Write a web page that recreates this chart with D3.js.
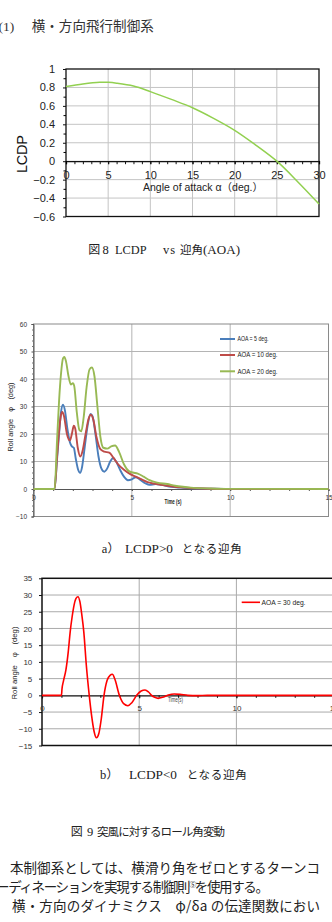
<!DOCTYPE html>
<html><head><meta charset="utf-8">
<script src="https://cdn.jsdelivr.net/npm/d3@7"></script>
<style>body{margin:0;background:#fff;overflow:hidden}svg{display:block}</style>
</head><body>
<svg id="c" width="332" height="922"></svg>
<script>
// ---------- data ----------
const lcdpAlpha = [0,2,4,5,6,8,10,12.5,15,17.5,20,22.5,25,27.5,30];
const lcdpValue = [0.81,0.838,0.856,0.855,0.846,0.815,0.755,0.67,0.58,0.465,0.335,0.175,0,-0.225,-0.465];
const lcdpXTicks = [0,5,10,15,20,25,30];
const lcdpYTicks = [-0.6,-0.4,-0.2,0,0.2,0.4,0.6,0.8,1];

const timeA5 = [0,1.07,1.2,1.3,1.4,1.5,1.6,1.72,1.85,1.95,2.05,2.15,2.27,2.37,2.47,2.6,2.75,2.9,3.0,3.15,3.3,3.45,3.6,3.75,3.9,4.05,4.2,4.4,4.6,4.8,5.0,5.2,5.4,5.7,5.9,6.2,6.5,7,7.5,8,9,10,15];
const rollA5 = [0,0,11,20,28,30.7,28.5,22,17,15.5,15,11,7,5.9,8,15,23,27.3,26.5,20,12,7.5,6.3,7.5,10,11.3,10,7,4.5,3.2,3.5,4.3,3.5,2,1.5,1.8,1.5,0.8,0.5,0.25,0.1,0,0];
const timeA10 = [0,1.07,1.2,1.3,1.4,1.47,1.55,1.7,1.85,1.95,2.05,2.12,2.25,2.38,2.5,2.65,2.8,2.92,3.05,3.2,3.4,3.6,3.85,4.05,4.3,4.6,4.9,5.2,5.5,5.8,6.1,6.5,7,7.5,8,9,10,15];
const rollA10 = [0,0,12,21,27,28,26.5,20,17.6,20,23,22,15,11.8,14,20,25.5,27,25,19,14.5,13.6,13.2,11.5,9,7,5.5,4.5,3.5,2.5,2,1.5,1,0.6,0.35,0.1,0,0];
const timeA20 = [0,1.07,1.2,1.3,1.4,1.5,1.57,1.65,1.78,1.9,2.0,2.07,2.2,2.33,2.43,2.55,2.7,2.85,2.97,3.1,3.25,3.4,3.55,3.75,3.95,4.15,4.35,4.6,4.85,5.05,5.3,5.6,5.9,6.3,6.8,7.2,7.6,8,9,10,15];
const rollA20 = [0,0,18,32,42,47.5,48,46.5,41,38,38.5,37.5,28,21.5,21,26,37,43.5,44.2,41,30,19,15,14.7,15.5,15.8,13.5,9,6.5,6,5.6,4.5,3.2,2.3,1.8,1.2,0.8,0.5,0.2,0.05,0];
const seriesA = ["AOA = 5 deg.","AOA = 10 deg.","AOA = 20 deg."];
const rollXTicks = [0,5,10,15];
const rollYTicksA = [-10,0,10,20,30,40,50,60];

const timeA30 = [0,1.0,1.03,1.1,1.23,1.35,1.45,1.55,1.65,1.75,1.85,1.95,2.05,2.15,2.28,2.43,2.55,2.68,2.8,2.92,3.05,3.19,3.35,3.5,3.62,3.75,3.98,4.2,4.42,4.62,4.87,5.1,5.3,5.48,5.64,5.8,5.98,6.2,6.5,6.8,7.1,7.5,8,8.5,15];
const rollA30 = [0,0,2,4.2,7.6,13,19,23.5,27,29,29.5,28,24,19,9,0,-6,-10.8,-12.7,-11.5,-7,0,4.5,6,6.3,4.8,0,-2.5,-3.1,-2.2,0,1.3,1.6,1,0,-0.6,-0.9,-0.6,0.1,0.4,0.3,0,-0.1,0,0];
const seriesB = ["AOA = 30 deg."];
const rollYTicksB = [-15,-10,-5,0,5,10,15,20,25,30,35];

// ---------- setup ----------
const svg = d3.select("#c");
const SANS = "'Liberation Sans','Noto Sans CJK JP',sans-serif";
const SERIF = "'Liberation Serif','Noto Sans CJK JP',serif";
const CJK = "'Noto Sans CJK JP',sans-serif";

function txt(x, y, s, o = {}) {
  const t = svg.append("text").attr("x", x).attr("y", y).text(s)
    .attr("font-family", o.ff || SERIF).attr("font-size", o.fs || 12)
    .attr("fill", o.fill || "#222");
  if (o.anchor) t.attr("text-anchor", o.anchor);
  if (o.len) t.attr("textLength", o.len).attr("lengthAdjust", o.adj || "spacing");
  if (o.weight) t.attr("font-weight", o.weight);
  return t;
}

// ---------- header text ----------
txt(-1.5, 31, "(1)", {fs: 13.5, ff: SERIF, fill: "#333"});
txt(31.7, 31, "横・方向飛行制御系", {fs: 13.5, ff: CJK, fill: "#333", len: 122});

// ---------- chart 1 : LCDP ----------
{
  const x = d3.scaleLinear([0, 30], [66, 319]);
  const y = d3.scaleLinear([-0.6, 1], [216.5, 69]);
  const g = svg.append("g");
  g.selectAll(".hg").data(lcdpYTicks.slice(1, -1)).join("line")
    .attr("x1", x(0)).attr("x2", x(30)).attr("y1", d => y(d)).attr("y2", d => y(d))
    .attr("stroke", "#c4c4c4").attr("stroke-width", 1);
  g.selectAll(".vg").data(lcdpXTicks.slice(1, -1)).join("line")
    .attr("y1", y(1)).attr("y2", y(-0.6)).attr("x1", d => x(d)).attr("x2", d => x(d))
    .attr("stroke", "#c4c4c4").attr("stroke-width", 1);
  g.append("rect").attr("x", x(0)).attr("y", y(1)).attr("width", x(30) - x(0)).attr("height", y(-0.6) - y(1))
    .attr("fill", "none").attr("stroke", "#111").attr("stroke-width", 1.3);
  const ya = g.append("g").attr("transform", `translate(${x(0)},0)`)
    .call(d3.axisLeft(y).tickValues(lcdpYTicks).tickSize(3).tickPadding(8).tickFormat(d3.format("")));
  ya.select(".domain").remove();
  ya.selectAll("text").attr("font-size", 11).attr("font-family", SANS).attr("fill", "#222");
  ya.selectAll("line").attr("stroke", "#111");
  const yminor = g.append("g").attr("transform", `translate(${x(0)},0)`)
    .call(d3.axisLeft(y).tickValues(d3.range(-0.5, 1, 0.2)).tickSize(2.5).tickFormat(""));
  yminor.select(".domain").remove();
  const xa = g.append("g").attr("transform", `translate(0,${y(0)})`)
    .call(d3.axisBottom(x).tickValues(lcdpXTicks).tickSize(3).tickPadding(7));
  xa.select(".domain").attr("stroke", "#111").attr("stroke-width", 1.3);
  xa.selectAll("text").attr("font-size", 11).attr("font-family", SANS).attr("fill", "#222");
  const xminor = g.append("g").attr("transform", `translate(0,${y(0)})`)
    .call(d3.axisBottom(x).tickValues(d3.range(1, 30, 1)).tickSize(3).tickFormat(""));
  xminor.select(".domain").remove();
  xminor.selectAll("line").attr("stroke", "#111");
  g.append("path").datum(lcdpAlpha.map((a, i) => [a, lcdpValue[i]]))
    .attr("d", d3.line().x(d => x(d[0])).y(d => y(d[1])).curve(d3.curveCatmullRom))
    .attr("fill", "none").attr("stroke", "#92d050").attr("stroke-width", 1.5);
  txt(203, 190.5, "Angle of attack α（deg.）", {fs: 10.5, ff: SANS, anchor: "middle", len: 120, fill: "#222"});
  svg.append("text").text("LCDP").attr("transform", "translate(26.8,154) rotate(-90)")
    .attr("text-anchor", "middle").attr("font-family", SANS).attr("font-size", 14.5).attr("fill", "#111")
    .attr("textLength", 38);
}

// caption fig 8
txt(88.3, 254, "図", {fs: 12, ff: CJK});
txt(102.5, 254, "8", {fs: 12.5});
txt(115, 254, "LCDP", {fs: 12.5, len: 31.5, adj: "spacingAndGlyphs"});
txt(163, 254, "vs", {fs: 12.5, len: 12});
txt(180, 254, "迎角", {fs: 11.5, ff: CJK, len: 23});
txt(203, 254, "(AOA)", {fs: 12.5, len: 37, adj: "spacingAndGlyphs"});

// ---------- chart 2 ----------
{
  const x = d3.scaleLinear([0, 15], [33.5, 328.5]);
  const y = d3.scaleLinear([-10, 60], [516.5, 324]);
  const g = svg.append("g");
  g.selectAll(".hg").data(rollYTicksA.filter(d => d > 0 && d < 60)).join("line")
    .attr("x1", x(0)).attr("x2", x(15)).attr("y1", d => y(d)).attr("y2", d => y(d))
    .attr("stroke", "#b4b4b4").attr("stroke-width", 1);
  g.selectAll(".vg").data([5, 10]).join("line")
    .attr("y1", y(60)).attr("y2", y(-10)).attr("x1", d => x(d)).attr("x2", d => x(d))
    .attr("stroke", "#b4b4b4").attr("stroke-width", 1);
  g.append("rect").attr("x", x(0)).attr("y", y(60)).attr("width", x(15) - x(0)).attr("height", y(-10) - y(60))
    .attr("fill", "none").attr("stroke", "#8a8a8a").attr("stroke-width", 1);
  const ya = g.append("g").attr("transform", `translate(${x(0)},0)`)
    .call(d3.axisLeft(y).tickValues(rollYTicksA).tickSize(2).tickPadding(4.5));
  ya.select(".domain").attr("stroke", "#555");
  ya.selectAll("text").attr("font-size", 6.5).attr("font-family", SANS).attr("fill", "#333");
  ya.selectAll("line").attr("stroke", "#555");
  const ym = g.append("g").attr("transform", `translate(${x(0)},0)`)
    .call(d3.axisLeft(y).tickValues(d3.range(-8, 60, 2).filter(d => d % 10 !== 0)).tickSize(1.5).tickFormat(""));
  ym.select(".domain").remove();
  ym.selectAll("line").attr("stroke", "#777");
  const xa = g.append("g").attr("transform", `translate(0,${y(0)})`)
    .call(d3.axisBottom(x).tickValues(rollXTicks).tickSize(2).tickPadding(4));
  xa.select(".domain").attr("stroke", "#555");
  xa.selectAll("text").attr("font-size", 6.5).attr("font-family", SANS).attr("fill", "#333");
  xa.selectAll("line").attr("stroke", "#555");
  const xm = g.append("g").attr("transform", `translate(0,${y(0)})`)
    .call(d3.axisBottom(x).tickValues(d3.range(1, 15, 1)).tickSize(2).tickFormat(""));
  xm.select(".domain").remove();
  xm.selectAll("line").attr("stroke", "#555");

  const colors = ["#4a7ebb", "#be4b48", "#98b954"];
  const data = [[timeA5, rollA5], [timeA10, rollA10], [timeA20, rollA20]];
  const line = d3.line().x(d => x(d[0])).y(d => y(d[1])).curve(d3.curveMonotoneX);
  [0, 1, 2].forEach(i => {
    g.append("path").datum(data[i][0].map((t, k) => [t, data[i][1][k]]))
      .attr("d", line).attr("fill", "none").attr("stroke", colors[i]).attr("stroke-width", 1.9)
      .attr("stroke-linejoin", "round");
  });
  const ly = [339, 355, 371.3];
  const lens = [31, 40, 40];
  seriesA.forEach((s, i) => {
    g.append("line").attr("x1", 220).attr("x2", 235).attr("y1", ly[i]).attr("y2", ly[i])
      .attr("stroke", colors[i]).attr("stroke-width", 2);
    g.append("text").attr("x", 237.5).attr("y", ly[i]).attr("dy", "0.35em").text(s)
      .attr("font-family", SANS).attr("font-size", 6.5).attr("fill", "#222")
      .attr("textLength", lens[i]).attr("lengthAdjust", "spacingAndGlyphs");
  });
  g.append("text").attr("x", 173).attr("y", 503.5).attr("text-anchor", "middle").text("Time (s)")
    .attr("font-family", SANS).attr("font-size", 6.5).attr("font-weight", "bold").attr("fill", "#222")
    .attr("textLength", 17).attr("lengthAdjust", "spacingAndGlyphs");
  g.append("text").text("Roll angle　φ　(deg)").attr("transform", "translate(13,417) rotate(-90)")
    .attr("text-anchor", "middle").attr("font-family", SANS).attr("font-size", 6.5).attr("fill", "#222")
    .attr("textLength", 69).attr("lengthAdjust", "spacingAndGlyphs");
}

// caption a
txt(101.7, 553, "a", {fs: 12.5});
txt(107.5, 553, "）", {fs: 12, ff: CJK});
txt(125, 553, "LCDP>0", {fs: 12.5, len: 48, adj: "spacingAndGlyphs"});
txt(181.7, 553, "となる迎角", {fs: 11.5, ff: CJK, len: 60});

// ---------- chart 3 ----------
{
  const x = d3.scaleLinear([0, 15], [42, 333.6]);
  const y = d3.scaleLinear([-15, 35], [745.5, 578.3]);
  const g = svg.append("g");
  g.selectAll(".hg").data(rollYTicksB.filter(d => d > -15 && d < 35 && d !== 0)).join("line")
    .attr("x1", x(0)).attr("x2", x(15)).attr("y1", d => y(d)).attr("y2", d => y(d))
    .attr("stroke", "#aaaaaa").attr("stroke-width", 1);
  g.selectAll(".vg").data([5, 10]).join("line")
    .attr("y1", y(35)).attr("y2", y(-15)).attr("x1", d => x(d)).attr("x2", d => x(d))
    .attr("stroke", "#aaaaaa").attr("stroke-width", 1);
  g.append("rect").attr("x", x(0)).attr("y", y(35)).attr("width", x(15) - x(0)).attr("height", y(-15) - y(35))
    .attr("fill", "none").attr("stroke", "#111").attr("stroke-width", 1.5);
  const ya = g.append("g").attr("transform", `translate(${x(0)},0)`)
    .call(d3.axisLeft(y).tickValues(rollYTicksB).tickSize(3).tickPadding(6.7));
  ya.select(".domain").remove();
  ya.selectAll("text").attr("font-size", 8).attr("font-family", SANS).attr("fill", "#333");
  ya.selectAll("line").attr("stroke", "#111");
  const xa = g.append("g").attr("transform", `translate(0,${y(0)})`)
    .call(d3.axisBottom(x).tickValues(rollXTicks).tickSize(3).tickPadding(6.5));
  xa.select(".domain").attr("stroke", "#111").attr("stroke-width", 1.2);
  xa.selectAll("text").attr("font-size", 8).attr("font-family", SANS).attr("fill", "#333");
  xa.selectAll("line").attr("stroke", "#111");
  const xm = g.append("g").attr("transform", `translate(0,${y(0)})`)
    .call(d3.axisBottom(x).tickValues(d3.range(1, 15, 1)).tickSize(2.5).tickFormat(""));
  xm.select(".domain").remove();
  xm.selectAll("line").attr("stroke", "#111");

  g.append("text").attr("x", 175.5).attr("y", 701.8).attr("text-anchor", "middle").text("Time(s)")
    .attr("font-family", SANS).attr("font-size", 6.5).attr("fill", "#444")
    .attr("textLength", 15).attr("lengthAdjust", "spacingAndGlyphs");
  g.append("path").datum(timeA30.map((t, k) => [t, rollA30[k]]))
    .attr("d", d3.line().x(d => x(d[0])).y(d => y(d[1])).curve(d3.curveMonotoneX))
    .attr("fill", "none").attr("stroke", "#ff0000").attr("stroke-width", 1.6).attr("stroke-linejoin", "round");
  g.append("line").attr("x1", 241.7).attr("x2", 260).attr("y1", 602.3).attr("y2", 602.3)
    .attr("stroke", "#ff0000").attr("stroke-width", 1.6);
  g.append("text").attr("x", 261.5).attr("y", 602.3).attr("dy", "0.35em").text(seriesB[0])
    .attr("font-family", SANS).attr("font-size", 7).attr("fill", "#222")
    .attr("textLength", 44).attr("lengthAdjust", "spacingAndGlyphs");
  g.append("text").text("Roll angle　φ　(deg)").attr("transform", "translate(16.5,663) rotate(-90)")
    .attr("text-anchor", "middle").attr("font-family", SANS).attr("font-size", 7).attr("fill", "#222")
    .attr("textLength", 73).attr("lengthAdjust", "spacingAndGlyphs");
}

// caption b
txt(100, 779, "b", {fs: 12.5});
txt(106.5, 779, "）", {fs: 12, ff: CJK});
txt(129, 779, "LCDP<0", {fs: 12.5, len: 48, adj: "spacingAndGlyphs"});
txt(186.7, 779, "となる迎角", {fs: 11.5, ff: CJK, len: 60});

// caption fig 9
txt(70.7, 836, "図", {fs: 12, ff: CJK});
txt(87, 836, "9", {fs: 12.5});
txt(97, 836, "突風に対するロール角変動", {fs: 11.5, ff: CJK, len: 128});

// paragraph
txt(10, 873, "本制御系としては、横滑り角をゼロとするターンコ", {fs: 13.5, ff: CJK, len: 310});
{
  const t = svg.append("text").attr("x", -4).attr("y", 891.5)
    .attr("font-family", CJK).attr("font-size", 13.5).attr("fill", "#222")
    .attr("textLength", 273).attr("lengthAdjust", "spacing");
  t.append("tspan").text("ーディネーションを実現する制御則");
  t.append("tspan").text("⑤").attr("font-size", 7).attr("dy", -5);
  t.append("tspan").text("を使用する。").attr("dy", 5);
}
txt(12, 910.5, "横・方向のダイナミクス　φ/δa の伝達関数におい", {fs: 13.5, ff: CJK, len: 308});
</script>
</body></html>
